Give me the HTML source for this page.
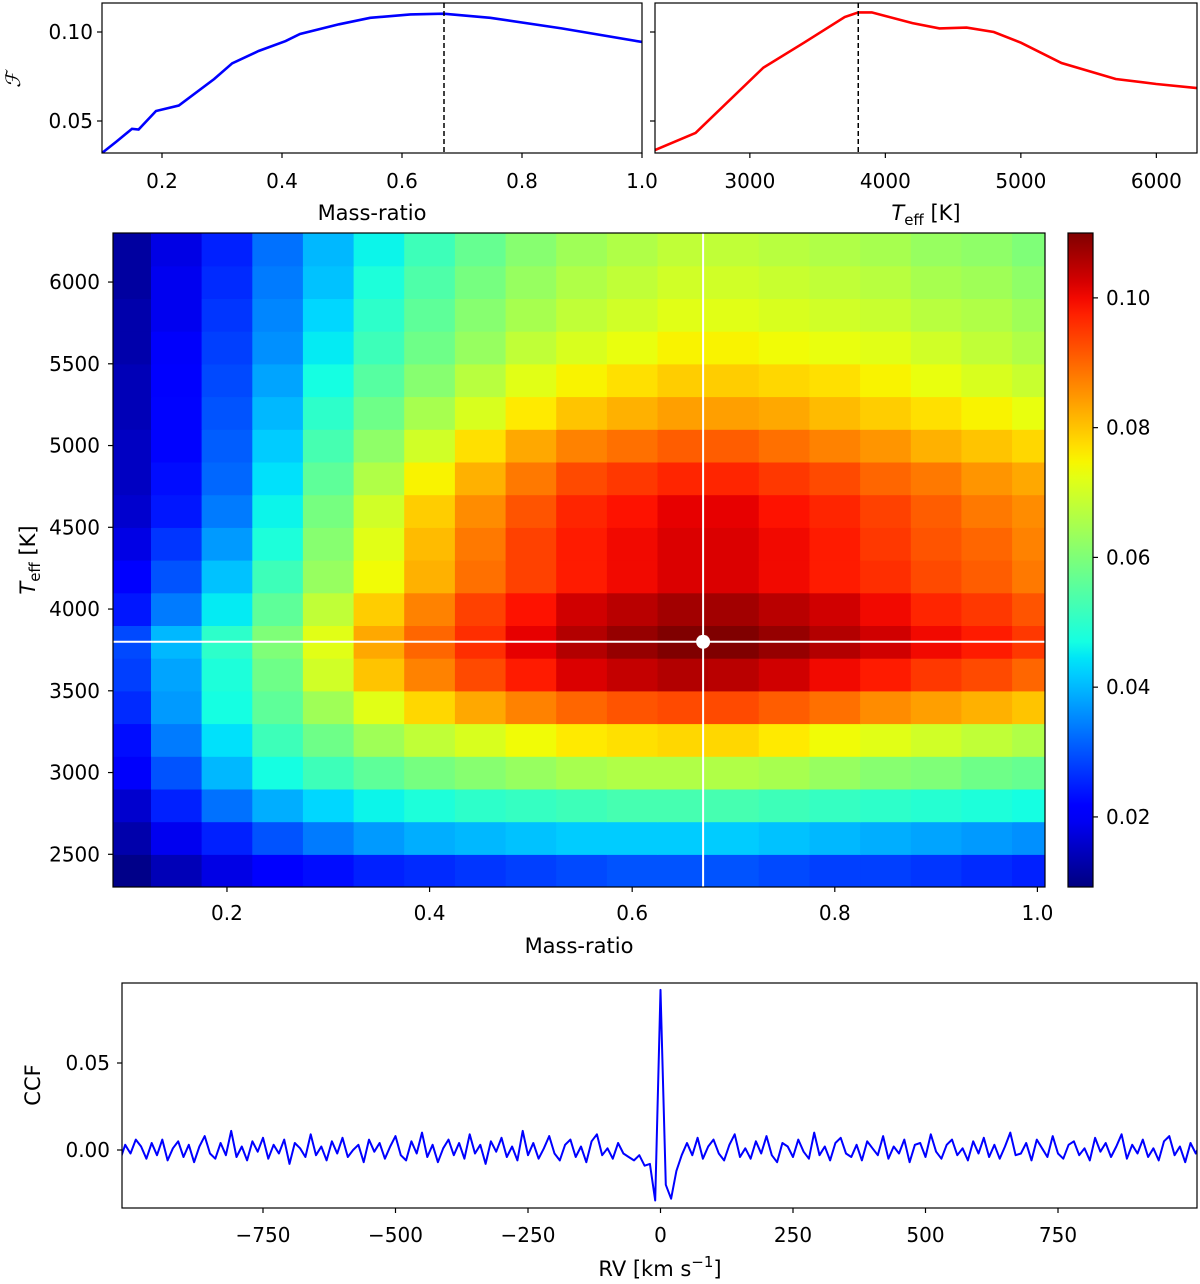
<!DOCTYPE html>
<html><head><meta charset="utf-8"><style>
html,body{margin:0;padding:0;background:#fff;}
svg{display:block;font-family:"DejaVu Sans","Liberation Sans",sans-serif;}
</style></head><body>
<svg id="fig" width="1200" height="1284" viewBox="0 0 1200 1284" xmlns="http://www.w3.org/2000/svg"></svg>
<script>
// ---------- data ----------
const massCurveQ = [0.1,0.124,0.15,0.161,0.19,0.228,0.287,0.317,0.361,0.406,0.43,0.495,0.547,0.614,0.669,0.747,0.866,1.0];
const massCurveF = [0.032,0.0384,0.0456,0.0452,0.0556,0.0587,0.0736,0.0824,0.0893,0.0949,0.0989,0.1043,0.108,0.1099,0.1103,0.108,0.102,0.0944];
const teffCurveT = [2300,2600,3100,3400,3700,3800,3900,4000,4200,4400,4600,4800,5000,5300,5700,6000,6300];
const teffCurveF = [0.0337,0.0433,0.080,0.094,0.1084,0.111,0.111,0.109,0.105,0.102,0.1025,0.100,0.094,0.0826,0.0736,0.0708,0.0685];
const bestQ = 0.67, bestT = 3800;
const gridQ = [0.10,0.15,0.20,0.25,0.30,0.35,0.40,0.45,0.50,0.55,0.60,0.65,0.70,0.75,0.80,0.85,0.90,0.95,1.00];
const gridT = [2400,2600,2800,3000,3200,3400,3600,3800,4000,4200,4400,4600,4800,5000,5200,5400,5600,5800,6000,6200];
const gridF = [
[0.010,0.014,0.018,0.021,0.023,0.025,0.026,0.027,0.028,0.029,0.030,0.030,0.030,0.029,0.028,0.028,0.027,0.026,0.025],
[0.013,0.019,0.025,0.030,0.034,0.037,0.039,0.040,0.041,0.042,0.042,0.042,0.042,0.041,0.040,0.039,0.038,0.037,0.036],
[0.016,0.025,0.033,0.039,0.043,0.046,0.048,0.050,0.051,0.052,0.053,0.053,0.053,0.052,0.051,0.050,0.049,0.048,0.047],
[0.020,0.030,0.040,0.047,0.052,0.056,0.059,0.061,0.063,0.065,0.066,0.066,0.066,0.065,0.063,0.061,0.060,0.058,0.057],
[0.023,0.034,0.044,0.052,0.058,0.064,0.068,0.071,0.074,0.076,0.077,0.078,0.078,0.076,0.074,0.072,0.070,0.068,0.066],
[0.026,0.037,0.047,0.056,0.064,0.072,0.078,0.083,0.087,0.090,0.092,0.093,0.093,0.091,0.089,0.086,0.084,0.082,0.080],
[0.028,0.038,0.048,0.058,0.070,0.080,0.087,0.093,0.098,0.102,0.104,0.1056,0.105,0.103,0.100,0.098,0.095,0.093,0.090],
[0.029,0.040,0.050,0.060,0.072,0.083,0.090,0.096,0.101,0.1055,0.108,0.110,0.110,0.108,0.1055,0.103,0.100,0.098,0.095],
[0.024,0.034,0.045,0.056,0.068,0.079,0.087,0.094,0.099,0.103,0.105,0.107,0.107,0.105,0.103,0.100,0.097,0.095,0.092],
[0.021,0.030,0.041,0.052,0.063,0.074,0.082,0.089,0.094,0.098,0.100,0.102,0.102,0.100,0.098,0.096,0.093,0.091,0.088],
[0.018,0.027,0.037,0.048,0.061,0.072,0.081,0.088,0.094,0.098,0.100,0.102,0.102,0.100,0.098,0.095,0.092,0.090,0.087],
[0.016,0.024,0.034,0.046,0.059,0.070,0.079,0.086,0.092,0.097,0.099,0.101,0.101,0.099,0.097,0.094,0.091,0.088,0.086],
[0.015,0.023,0.032,0.044,0.056,0.066,0.075,0.082,0.088,0.093,0.095,0.097,0.097,0.095,0.093,0.090,0.088,0.085,0.083],
[0.015,0.022,0.031,0.042,0.053,0.062,0.070,0.077,0.083,0.087,0.089,0.091,0.091,0.089,0.087,0.085,0.082,0.080,0.078],
[0.014,0.022,0.030,0.040,0.050,0.058,0.065,0.071,0.076,0.080,0.082,0.084,0.084,0.083,0.081,0.079,0.077,0.075,0.073],
[0.014,0.021,0.029,0.038,0.047,0.055,0.061,0.067,0.072,0.075,0.077,0.079,0.079,0.078,0.077,0.075,0.073,0.071,0.069],
[0.013,0.020,0.028,0.036,0.045,0.052,0.058,0.063,0.068,0.071,0.073,0.075,0.075,0.074,0.073,0.072,0.070,0.068,0.066],
[0.013,0.019,0.027,0.035,0.043,0.050,0.056,0.061,0.065,0.068,0.070,0.072,0.072,0.071,0.070,0.069,0.067,0.066,0.064],
[0.012,0.019,0.026,0.034,0.041,0.048,0.054,0.059,0.063,0.066,0.068,0.070,0.070,0.069,0.068,0.067,0.065,0.064,0.062],
[0.012,0.018,0.025,0.033,0.040,0.046,0.052,0.057,0.061,0.064,0.066,0.068,0.068,0.067,0.066,0.065,0.063,0.062,0.060]
];
const ccfLeft = [-3,5,-6,3,-2,6,2,-5,4,-3,6,-6,1,5,-4,3,-7,2,8,-2,-5,4,-3,11,-4,2,-6,5,-1,7,-5,3,-2,6,-8,4,1,-4,9,-3,2,-6,5,-2,7,-4,0,3,-7,6,-1,4,-5,2,8,-3,-6,5,-2,10,-4,3,-7,1,6,-3,4,-5,9,-2,3,-8,5,-1,7,-4,2,-6,11,-3,4,-5,1,8,-2,-6,3,6,-4,2,-7,5,9,-3,1,-5,4,-2,-4,-6,-3,-9];
const ccfPeak = [-8,-29,92,-20,-28,-12,-3];
const ccfRight = [4,-3,7,-5,2,6,-2,-6,3,9,-4,1,-5,5,-2,8,-3,-7,4,2,-4,6,-1,-5,10,-3,2,-6,4,7,-2,-4,3,-6,5,1,-3,8,-5,2,-2,6,-7,3,4,-4,9,-1,-5,3,6,-3,1,-6,5,-2,7,-4,3,-5,2,10,-3,-2,4,-6,6,1,-4,8,-2,-5,3,5,-3,1,-6,7,-1,4,-4,2,9,-5,3,-2,6,-4,1,-6,5,8,-3,2,-7,4,-2,5];
const ccfStep = 10;
const massTicks = [0.2,0.4,0.6,0.8,1.0];
const massTickLabels = ["0.2","0.4","0.6","0.8","1.0"];
const fTicks = [0.05,0.10];
const fTickLabels = ["0.05","0.10"];
const teffTicks = [3000,4000,5000,6000];
const teffTickLabels = ["3000","4000","5000","6000"];
const hmTeffTicks = [2500,3000,3500,4000,4500,5000,5500,6000];
const cbTicks = [0.02,0.04,0.06,0.08,0.10];
const cbTickLabels = ["0.02","0.04","0.06","0.08","0.10"];
const rvTicks = [-750,-500,-250,0,250,500,750];
const rvTickLabels = ["\u2212750","\u2212500","\u2212250","0","250","500","750"];
const ccfTicks = [0.00,0.05];
const ccfTickLabels = ["0.00","0.05"];

// ---------- helpers ----------
const NS="http://www.w3.org/2000/svg";
const svg=document.getElementById('fig');
function mk(tag,attrs,parent){const e=document.createElementNS(NS,tag);for(const k in attrs)e.setAttribute(k,attrs[k]);(parent||svg).appendChild(e);return e;}
function lin(d0,d1,r0,r1){return v=>r0+(v-d0)/(d1-d0)*(r1-r0);}
function jet(t){t=Math.max(0,Math.min(1,t));
 function pw(p){for(let i=1;i<p.length;i++){if(t<=p[i][0]){const a=p[i-1],b=p[i];return a[1]+(t-a[0])/(b[0]-a[0])*(b[1]-a[1]);}}return p[p.length-1][1];}
 const r=pw([[0,0],[0.35,0],[0.66,1],[0.89,1],[1,0.5]]);
 const g=pw([[0,0],[0.125,0],[0.375,1],[0.64,1],[0.91,0],[1,0]]);
 const b=pw([[0,0.5],[0.11,1],[0.34,1],[0.65,0],[1,0]]);
 return `rgb(${Math.round(r*255)},${Math.round(g*255)},${Math.round(b*255)})`;}
const FS=20;

// ---------- top-left: mass-ratio curve ----------
const g1=mk('g',{});


const x1=lin(0.1,1.0,102,642), y1=lin(0.10,0.05,32,121);
const cp1=mk('clipPath',{id:'cp1'},g1); mk('rect',{x:102,y:3,width:540,height:150},cp1);
let d='';massCurveQ.forEach((q,i)=>{d+=(i?'L':'M')+x1(q).toFixed(1)+','+y1(massCurveF[i]).toFixed(1);});
const l1=mk('path',{d:d,fill:'none',stroke:'#0000ff','stroke-width':2.6,'clip-path':'url(#cp1)'},g1);


const dl1=mk('line',{x1:x1(bestQ),x2:x1(bestQ),y1:3,y2:153,stroke:'#000','stroke-width':1.5,'stroke-dasharray':'5,3'},g1);


mk('rect',{x:102,y:3,width:540,height:150,fill:'none',stroke:'#000','stroke-width':1.2},g1);
massTicks.forEach((v,i)=>{const x=x1(v);mk('line',{x1:x,x2:x,y1:153,y2:158,stroke:'#000','stroke-width':1.2},g1);
 const t=mk('text',{x:x,y:188,'font-size':FS,'text-anchor':'middle'},g1);t.textContent=massTickLabels[i];
 
 });
fTicks.forEach((v,i)=>{const y=y1(v);mk('line',{x1:97,x2:102,y1:y,y2:y,stroke:'#000','stroke-width':1.2},g1);
 const t=mk('text',{x:93,y:y+7,'font-size':FS,'text-anchor':'end'},g1);t.textContent=fTickLabels[i];
 
 });
let tx=mk('text',{x:372,y:220,'font-size':21,'text-anchor':'middle'},g1);tx.textContent='Mass-ratio';


tx=mk('text',{x:0,y:0,'font-size':20,'font-style':'italic','font-family':'Liberation Serif,serif','text-anchor':'middle',transform:'translate(20,80) rotate(-90)'},g1);tx.textContent='\u2131';



// ---------- top-right: Teff curve ----------
const g2=mk('g',{});


const x2=lin(2300,6300,655,1197);
const cp2=mk('clipPath',{id:'cp2'},g2); mk('rect',{x:655,y:3,width:542,height:150},cp2);
d='';teffCurveT.forEach((T,i)=>{d+=(i?'L':'M')+x2(T).toFixed(1)+','+y1(teffCurveF[i]).toFixed(1);});
const l2=mk('path',{d:d,fill:'none',stroke:'#ff0000','stroke-width':2.6,'clip-path':'url(#cp2)'},g2);


const dl2=mk('line',{x1:x2(bestT),x2:x2(bestT),y1:3,y2:153,stroke:'#000','stroke-width':1.5,'stroke-dasharray':'5,3'},g2);


mk('rect',{x:655,y:3,width:542,height:150,fill:'none',stroke:'#000','stroke-width':1.2},g2);
teffTicks.forEach((v,i)=>{const x=x2(v);mk('line',{x1:x,x2:x,y1:153,y2:158,stroke:'#000','stroke-width':1.2},g2);
 const t=mk('text',{x:x,y:188,'font-size':FS,'text-anchor':'middle'},g2);t.textContent=teffTickLabels[i];
 
 });
fTicks.forEach(v=>{const y=y1(v);mk('line',{x1:650,x2:655,y1:y,y2:y,stroke:'#000','stroke-width':1.2},g2);});
tx=mk('text',{x:926,y:220,'font-size':21,'text-anchor':'middle'},g2);
tx.innerHTML='<tspan font-style="italic">T</tspan><tspan font-size="15" dy="5">eff</tspan><tspan dy="-5"> [K]</tspan>';



// ---------- heatmap ----------
const g3=mk('g',{});


const hx=lin(0.0875,1.0075,113,1045), hy=lin(2300,6300,887,233);
const cmin=0.0092,cmax=0.110;
const cp3=mk('clipPath',{id:'cp3'},g3); mk('rect',{x:113,y:233,width:932,height:654},cp3);
const cells=mk('g',{'clip-path':'url(#cp3)'},g3);
const dq=gridQ[1]-gridQ[0], dT=gridT[1]-gridT[0];
gridT.forEach((T,r)=>{gridQ.forEach((q,c)=>{
 const xa=hx(q-dq/2),xb=hx(q+dq/2),ya=hy(T+dT/2),yb=hy(T-dT/2);
 const cell=mk('rect',{x:xa.toFixed(1),y:ya.toFixed(1),width:(xb-xa+0.6).toFixed(1),height:(yb-ya+0.6).toFixed(1),fill:jet((gridF[r][c]-cmin)/(cmax-cmin))},cells);
 
 
});});
mk('line',{x1:hx(bestQ),x2:hx(bestQ),y1:233,y2:887,stroke:'#fff','stroke-width':2},g3);
mk('line',{x1:113,x2:1045,y1:hy(bestT),y2:hy(bestT),stroke:'#fff','stroke-width':2},g3);
const dot=mk('circle',{cx:hx(bestQ),cy:hy(bestT),r:7,fill:'#fff'},g3);


mk('rect',{x:113,y:233,width:932,height:654,fill:'none',stroke:'#000','stroke-width':1.2},g3);
massTicks.forEach((v,i)=>{const x=hx(v);mk('line',{x1:x,x2:x,y1:887,y2:892,stroke:'#000','stroke-width':1.2},g3);
 const t=mk('text',{x:x,y:920,'font-size':FS,'text-anchor':'middle'},g3);t.textContent=massTickLabels[i];
 
 });
hmTeffTicks.forEach(v=>{const y=hy(v);mk('line',{x1:108,x2:113,y1:y,y2:y,stroke:'#000','stroke-width':1.2},g3);
 const t=mk('text',{x:100,y:y+7,'font-size':FS,'text-anchor':'end'},g3);t.textContent=String(v);
 
 });
tx=mk('text',{x:579,y:953,'font-size':21,'text-anchor':'middle'},g3);tx.textContent='Mass-ratio';


tx=mk('text',{x:0,y:0,'font-size':21,'text-anchor':'middle',transform:'translate(35,560) rotate(-90)'},g3);
tx.innerHTML='<tspan font-style="italic">T</tspan><tspan font-size="15" dy="5">eff</tspan><tspan dy="-5"> [K]</tspan>';



// colorbar
const g4=mk('g',{});


const cy=lin(cmin,cmax,887,233);
const defs=mk('defs',{},g4);
const grad=mk('linearGradient',{id:'jetg',x1:0,y1:1,x2:0,y2:0},defs);
for(let i=0;i<=40;i++){mk('stop',{offset:(i/40),'stop-color':jet(i/40)},grad);}
mk('rect',{x:1068,y:233,width:25,height:654,fill:'url(#jetg)',stroke:'#000','stroke-width':1.2},g4);
cbTicks.forEach((v,i)=>{const y=cy(v);mk('line',{x1:1093,x2:1098,y1:y,y2:y,stroke:'#000','stroke-width':1.2},g4);
 const t=mk('text',{x:1106,y:y+7,'font-size':FS},g4);t.textContent=cbTickLabels[i];
 
 });

// ---------- CCF ----------
const g5=mk('g',{});


const rx=lin(-750,750,263,1058), ry=lin(0,0.05,1150,1063);
const ccf=ccfLeft.concat(ccfPeak,ccfRight);
const center=ccfLeft.length+2;
const cp5=mk('clipPath',{id:'cp5'},g5); mk('rect',{x:122,y:983,width:1075,height:225},cp5);
d='';ccf.forEach((v,i)=>{const rv=(i-center)*ccfStep;d+=(i?'L':'M')+rx(rv).toFixed(1)+','+ry(v/1000).toFixed(1);});
const l5=mk('path',{d:d,fill:'none',stroke:'#0000ff','stroke-width':2,'stroke-linejoin':'round','clip-path':'url(#cp5)'},g5);


mk('rect',{x:122,y:983,width:1075,height:225,fill:'none',stroke:'#000','stroke-width':1.2},g5);
rvTicks.forEach((v,i)=>{const x=rx(v);mk('line',{x1:x,x2:x,y1:1208,y2:1213,stroke:'#000','stroke-width':1.2},g5);
 const t=mk('text',{x:x,y:1242,'font-size':FS,'text-anchor':'middle'},g5);t.textContent=rvTickLabels[i];
 
 });
ccfTicks.forEach((v,i)=>{const y=ry(v);mk('line',{x1:117,x2:122,y1:y,y2:y,stroke:'#000','stroke-width':1.2},g5);
 const t=mk('text',{x:110,y:y+7,'font-size':FS,'text-anchor':'end'},g5);t.textContent=ccfTickLabels[i];
 
 });
tx=mk('text',{x:660,y:1276,'font-size':21,'text-anchor':'middle'},g5);
tx.innerHTML='RV [km s<tspan font-size="15" dy="-9">\u22121</tspan><tspan dy="9">]</tspan>';


tx=mk('text',{x:0,y:0,'font-size':21,'text-anchor':'middle',transform:'translate(40,1085) rotate(-90)'},g5);tx.textContent='CCF';


</script>
</body></html>
